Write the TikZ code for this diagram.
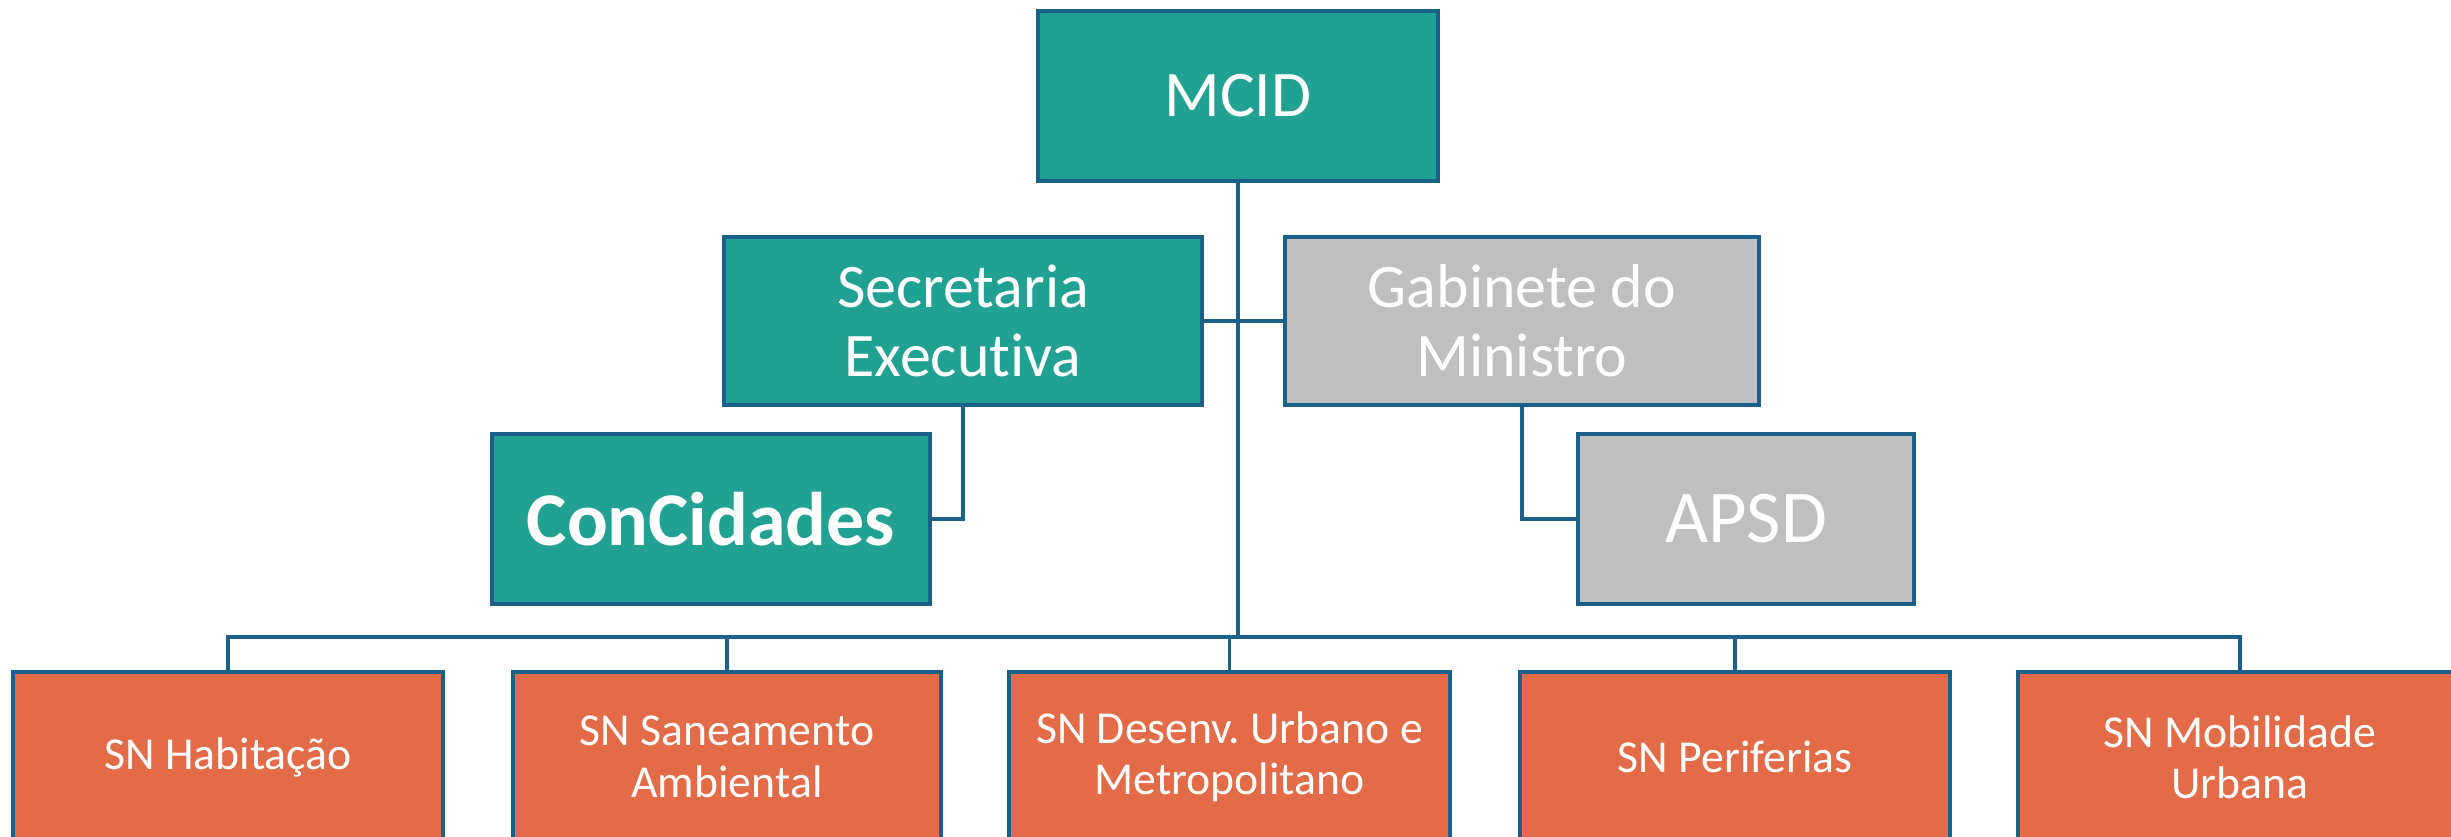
\documentclass[tikz,border=0pt]{standalone}
\usepackage{fontspec}
\setmainfont{Carlito}[Ligatures=NoCommon]
\frenchspacing
\definecolor{tealbox}{HTML}{21A191}
\definecolor{graybox}{HTML}{BFBFBF}
\definecolor{orangebox}{HTML}{E36B47}
\definecolor{edgeblue}{HTML}{1B6088}
\begin{document}
\begin{tikzpicture}[x=0.01cm,y=-0.01cm,
  box/.style={draw=edgeblue,line width=1.15pt,rectangle,inner sep=0pt,
    text=white,align=center,minimum height=1.70cm},
  tealstyle/.style={box,fill=tealbox},
  graystyle/.style={box,fill=graybox},
  orangestyle/.style={box,fill=orangebox,
    font=\fontsize{13pt}{14.6pt}\selectfont},
  conn/.style={draw=edgeblue,line width=1.05pt}]
\useasboundingbox (0,0) rectangle (2451,837);
% top
\node[tealstyle,minimum width=4.00cm,font=\fontsize{18.5pt}{21pt}\selectfont] (mcid) at (1238,96) {MCID};
\node[tealstyle,minimum width=4.78cm,minimum height=1.68cm,font=\fontsize{17.6pt}{19.6pt}\selectfont] (sec) at (963,321) {Secretaria\\Executiva};
\node[graystyle,minimum width=4.73cm,minimum height=1.68cm,font=\fontsize{17.6pt}{19.6pt}\selectfont] (gab) at (1522,321) {Gabinete do\\Ministro};
\node[tealstyle,minimum width=4.38cm,font=\fontsize{21.6pt}{24pt}\selectfont\bfseries] (con) at (711,519) {ConCidades};
\node[graystyle,minimum width=3.36cm,font=\fontsize{21.2pt}{24pt}\selectfont] (apsd) at (1746,519) {APSD};
% bottom row
\node[orangestyle,minimum width=4.30cm] (b1) at (228,757) {SN Habitação};
\node[orangestyle,minimum width=4.28cm] (b2) at (727,757) {SN Saneamento\\Ambiental};
\node[orangestyle,minimum width=4.41cm] (b3) at (1229.5,757) {SN Desenv. Urbano e\\Metropolitano};
\node[orangestyle,minimum width=4.30cm] (b4) at (1735,757) {SN Periferias};
\node[orangestyle,minimum width=4.44cm] (b5) at (2240,757) {SN Mobilidade\\Urbana};
% connectors
\coordinate (bus) at (1238,637);
\draw[conn] (mcid.south) -- (bus);
\draw[conn] (sec.east) -- (gab.west);
\draw[conn] (sec.south) |- (con.east);
\draw[conn] (gab.south) |- (apsd.west);
\draw[conn] (b1.north) |- (bus);
\draw[conn] (b5.north) |- (bus);
\draw[conn] (b2.north) -- (b2.north |- bus);
\draw[conn] (b3.north) -- (b3.north |- bus);
\draw[conn] (b4.north) -- (b4.north |- bus);
\end{tikzpicture}
\end{document}
